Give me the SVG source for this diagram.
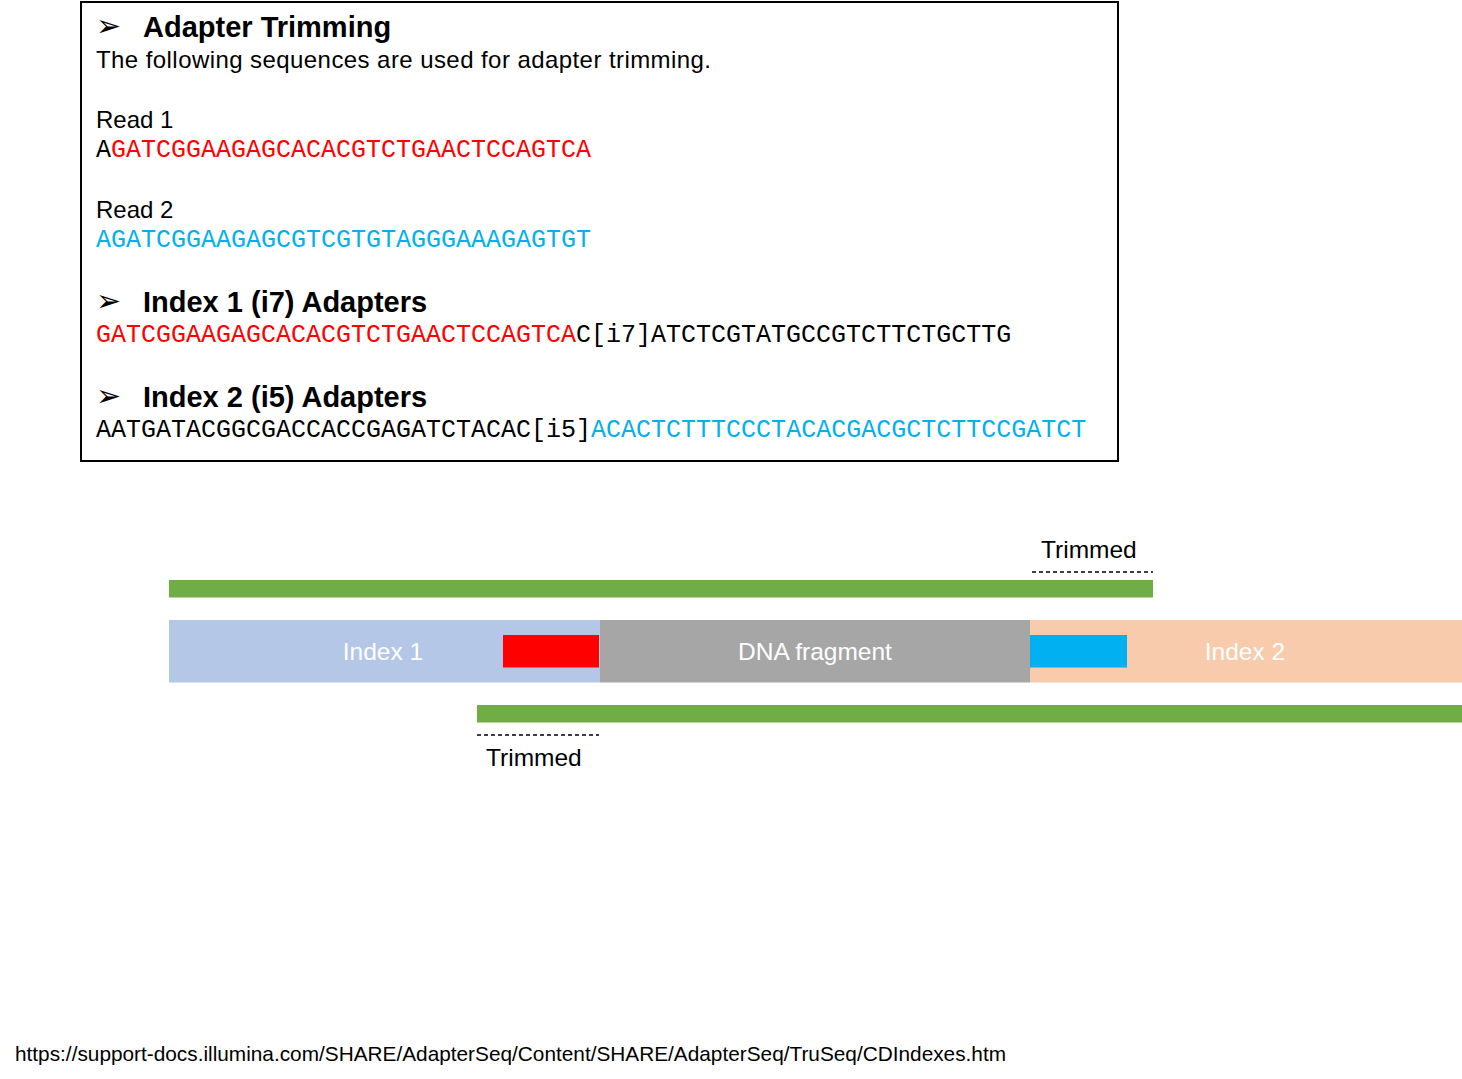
<svg xmlns="http://www.w3.org/2000/svg" width="1462" height="1079" viewBox="0 0 1462 1079">
<style>
.sans{font-family:"Liberation Sans",Arial,sans-serif;fill:#000}
.hdr{font-family:"Liberation Sans",Arial,sans-serif;font-weight:bold;font-size:29px;fill:#000}
.bul{font-family:"DejaVu Sans",sans-serif;font-size:30px;fill:#000}
.body{font-size:24px}
.trim{font-size:24.5px}
.seq{font-family:"Liberation Mono","Courier New",monospace;font-size:25px;fill:#000}
.r{fill:#FF0000}
.c{fill:#00B0F0}
.lbl{font-family:"Liberation Sans",Arial,sans-serif;font-size:24.5px;fill:#FFFFFF;text-anchor:middle}
.dash{stroke:#000;stroke-width:1.3;stroke-dasharray:4 3;fill:none}
.green{fill:#70AD47}
</style>
<rect width="1462" height="1079" fill="#FFFFFF"/>
<g id="adapter-box">
<rect x="81" y="2" width="1037" height="459" fill="#FFFFFF" stroke="#000" stroke-width="2"/>
<text class="bul" x="96" y="36">➢</text>
<text class="hdr" x="143" y="37">Adapter Trimming</text>
<text class="sans body" x="96" y="68" textLength="615" lengthAdjust="spacing">The following sequences are used for adapter trimming.</text>
<text class="sans body" x="96" y="127.5">Read 1</text>
<text class="seq" x="96" y="157">A<tspan class="r">GATCGGAAGAGCACACGTCTGAACTCCAGTCA</tspan></text>
<text class="sans body" x="96" y="217.5">Read 2</text>
<text class="seq" x="96" y="247"><tspan class="c">AGATCGGAAGAGCGTCGTGTAGGGAAAGAGTGT</tspan></text>
<text class="bul" x="96" y="311">➢</text>
<text class="hdr" x="143" y="312">Index 1 (i7) Adapters</text>
<text class="seq" x="96" y="342"><tspan class="r">GATCGGAAGAGCACACGTCTGAACTCCAGTCA</tspan>C[i7]ATCTCGTATGCCGTCTTCTGCTTG</text>
<text class="bul" x="96" y="406">➢</text>
<text class="hdr" x="143" y="407">Index 2 (i5) Adapters</text>
<text class="seq" x="96" y="437">AATGATACGGCGACCACCGAGATCTACAC[i5]<tspan class="c">ACACTCTTTCCCTACACGACGCTCTTCCGATCT</tspan></text>
</g>
<g id="read1">
<rect class="green" x="169" y="580" width="984" height="17.5"/>
<text class="sans trim" x="1041" y="558">Trimmed</text>
</g>
<g id="index1">
<rect x="169" y="620" width="431" height="62.5" fill="#B4C7E7"/>
<text class="lbl" x="383" y="660">Index 1</text>
<rect x="503" y="635" width="96" height="32.5" fill="#FF0000"/>
</g>
<g id="dna-fragment">
<rect x="600" y="620" width="430" height="62.5" fill="#A6A6A6"/>
<text class="lbl" x="815" y="660">DNA fragment</text>
</g>
<g id="index2">
<rect x="1030" y="620" width="432" height="62.5" fill="#F8CBAD"/>
<rect x="1030" y="635" width="97" height="32.5" fill="#00B0F0"/>
<text class="lbl" x="1245" y="660">Index 2</text>
</g>
<g id="read2">
<rect class="green" x="477" y="705" width="985" height="17.5"/>
<text class="sans trim" x="486" y="766">Trimmed</text>
</g>
<g id="connectors">
<line class="dash" x1="1032" y1="572" x2="1153" y2="572"/>
<line class="dash" x1="477" y1="735" x2="599" y2="735"/>
</g>
<g id="source">
<text class="sans" x="15" y="1061" font-size="20.8">https://support-docs.illumina.com/SHARE/AdapterSeq/Content/SHARE/AdapterSeq/TruSeq/CDIndexes.htm</text>
</g>
</svg>
